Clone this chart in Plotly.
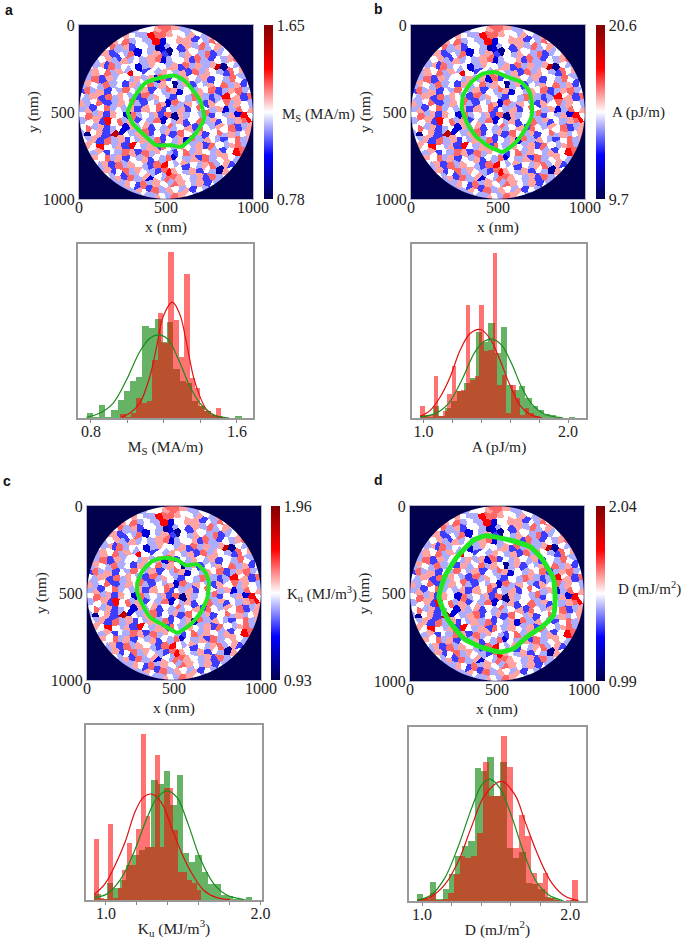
"""Grain maps with skyrmion outlines and parameter histograms, four panels."""

import numpy as np
import plotly.graph_objects as go

W, H = 685, 939
SERIF = "Liberation Serif"

# grain map, one digit per grain, see level_fraction
# the four maps show the same grains
grain_levels = [
    "0000000004556776445000000000",
    "0000004654487765546546000000",
    "0000465745448255663547560000",
    "0004574635541245364745654000",
    "0054635472546315465473456400",
    "0475643645467245563743546740",
    "0546374552465546374646915470",
    "0465746485354654637465437560",
    "5473645546462735465463547546",
    "4654745364574651463546574635",
    "3746354754635476254657346745",
    "5463746543746543547643485637",
    "6457346574354627465436574654",
    "4635745463657354635754624756",
    "5746365274546371645473546285",
    "4563857463547254635746354678",
    "5746345264635474563754657346",
    "4156392546735463754635746456",
    "5463746354647354627465435746",
    "4658546385463754654637546745",
    "0546354763746543574654635870",
    "0465746354635472546374565470",
    "0054637465437854635467463500",
    "0004635746543786546354165000",
    "0000546374625477654637450000",
    "0000004653746547654635000000",
    "0000000046537465463500000000",
    "0000000000046547654400000000",
]

# digit to position on the colour bar, 0 is outside the round sample and gets hidden
level_fraction = [0.42, 0.1, 0.2, 0.31, 0.42, 0.5, 0.59, 0.65, 0.75, 0.88]

# colour bar ends
ms_range = [0.78, 1.65]
a_range = [9.7, 20.6]
ku_range = [0.93, 1.96]
d_range = [0.99, 2.04]

# green outlines, nm
ms_outline_x = [280, 319, 376, 443, 548, 605, 662, 700, 719, 691, 653, 586, 529, 443, 376, 309, 280]
ms_outline_y = [500, 414, 338, 309, 290, 319, 385, 443, 538, 595, 643, 700, 691, 691, 634, 567, 500]
a_outline_x = [485, 558, 634, 682, 695, 692, 653, 596, 529, 452, 376, 328, 293, 299, 347, 414, 485]
a_outline_y = [271, 300, 328, 385, 462, 529, 605, 681, 729, 700, 643, 576, 481, 404, 328, 280, 271]
ku_outline_x = [289, 318, 376, 443, 519, 567, 634, 682, 701, 692, 653, 596, 519, 433, 366, 318, 289, 289]
ku_outline_y = [441, 374, 316, 297, 310, 341, 335, 383, 441, 527, 613, 680, 728, 680, 642, 565, 498, 441]
d_outline_x = [166, 204, 271, 366, 433, 557, 691, 757, 824, 834, 824, 757, 672, 595, 519, 404, 309, 214, 166]
d_outline_y = [519, 395, 290, 195, 170, 191, 233, 300, 414, 529, 624, 691, 748, 815, 834, 805, 757, 643, 519]

# histogram bars, arbitrary height units
ms_green = [15, 4, 40, 3, 25, 55, 80, 112, 122, 277, 270, 298, 228, 288, 148, 110, 105, 50, 35, 20, 10, 5, 2, 0, 5]
ms_red = [13, 3, 15, 60, 45, 50, 175, 317, 225, 498, 295, 183, 433, 120, 90, 35, 20, 8, 30]
a_green = [10, 4, 37, 5, 30, 50, 80, 105, 120, 258, 228, 283, 195, 273, 100, 85, 95, 60, 35, 25, 12, 8, 3, 0, 4]
a_red = [37, 8, 8, 125, 5, 20, 72, 155, 80, 85, 337, 115, 125, 337, 200, 205, 495, 100, 130, 15, 100, 60, 10, 30, 15, 5]
ku_green = [18, 3, 50, 35, 60, 105, 135, 150, 160, 358, 348, 385, 285, 373, 140, 115, 135, 85, 48, 48, 15, 12, 4, 4, 8]
ku_red = [182, 5, 3, 228, 5, 35, 90, 170, 105, 212, 497, 253, 160, 435, 160, 335, 335, 210, 85, 85, 60, 50, 30]
d_green = [20, 5, 57, 5, 37, 82, 135, 165, 180, 400, 392, 433, 315, 420, 160, 130, 148, 55, 50, 35, 12, 8, 2, 0, 4]
d_red = [5, 8, 25, 3, 5, 25, 80, 135, 130, 135, 205, 420, 315, 315, 497, 405, 160, 258, 197, 85, 55, 83, 10, 3, 1, 3, 63]

# fitted curves
ms_red_fit_x = [0.968, 1.014, 1.068, 1.123, 1.16, 1.196, 1.246, 1.288, 1.324, 1.361, 1.397, 1.434, 1.489, 1.543]
ms_red_fit_y = [3, 15, 45, 125, 215, 305, 348, 310, 225, 125, 65, 25, 5, 0]
ms_green_fit_x = [0.776, 0.849, 0.922, 0.995, 1.068, 1.123, 1.174, 1.224, 1.288, 1.342, 1.397, 1.47, 1.543]
ms_green_fit_y = [2, 15, 45, 115, 200, 240, 250, 235, 165, 95, 45, 10, 1]
a_red_fit_x = [0.977, 1.046, 1.115, 1.184, 1.253, 1.322, 1.393, 1.46, 1.529, 1.598, 1.667, 1.736, 1.816]
a_red_fit_y = [5, 23, 63, 123, 203, 253, 265, 238, 173, 98, 38, 11, 1]
a_green_fit_x = [0.977, 1.08, 1.172, 1.264, 1.356, 1.425, 1.476, 1.54, 1.609, 1.678, 1.747, 1.839, 1.954]
a_green_fit_y = [3, 13, 43, 113, 198, 231, 236, 218, 163, 93, 43, 11, 1]
ku_red_fit_x = [0.925, 0.996, 1.06, 1.125, 1.189, 1.243, 1.297, 1.361, 1.426, 1.49, 1.555, 1.63, 1.716, 1.802]
ku_red_fit_y = [17, 50, 105, 175, 265, 308, 317, 290, 215, 140, 80, 30, 7, 1]
ku_green_fit_x = [0.925, 1.006, 1.092, 1.178, 1.265, 1.329, 1.394, 1.458, 1.533, 1.609, 1.695, 1.781, 1.888]
ku_green_fit_y = [7, 18, 60, 140, 245, 305, 327, 308, 225, 125, 50, 15, 2]
d_red_fit_x = [0.966, 1.063, 1.153, 1.244, 1.334, 1.424, 1.537, 1.628, 1.695, 1.786, 1.876, 1.966, 2.056]
d_red_fit_y = [2, 14, 49, 119, 224, 319, 360, 319, 239, 134, 54, 14, 1]
d_green_fit_x = [0.966, 1.063, 1.153, 1.244, 1.334, 1.402, 1.458, 1.526, 1.605, 1.684, 1.763, 1.853, 1.944]
d_green_fit_y = [2, 19, 69, 164, 279, 349, 367, 339, 254, 149, 64, 19, 2]

seismic = [[0, "#00004d"], [0.25, "#0000ff"], [0.5, "#ffffff"], [0.75, "#ff0000"], [1, "#800000"]]

panels = [
    dict(letter="a", letter_xy=(9, 10), map_box=(79, 253, 25, 199), cbar_x=264, cbar_label="M<sub>S</sub> (MA/m)",
         label_xy=(280, 115), rng=ms_range, outline=(ms_outline_x, ms_outline_y), outline_w=4,
         hist_box=(78, 253, 244, 418), xr=(0.729, 1.688), ymax=523, ticks=[0.8, 1.0, 1.2, 1.4, 1.6], tick_text=["0.8", "", "", "", "1.6"],
         hist_title="M<sub>S</sub> (MA/m)", green=ms_green, green_x0=0.793, green_dx=0.034, red=ms_red, red_x0=0.975, red_dx=0.0292,
         red_fit=(ms_red_fit_x, ms_red_fit_y), green_fit=(ms_green_fit_x, ms_green_fit_y)),
    dict(letter="b", letter_xy=(379, 9), map_box=(411, 585, 25, 199), cbar_x=596, cbar_label="A (pJ/m)",
         label_xy=(610, 113), rng=a_range, outline=(a_outline_x, a_outline_y), outline_w=4,
         hist_box=(412, 586, 244, 418), xr=(0.92, 2.124), ymax=521, ticks=[1.0, 1.2, 1.4, 1.6, 1.8, 2.0], tick_text=["1.0", "", "", "", "", "2.0"],
         hist_title="A (pJ/m)", green=a_green, green_x0=0.999, green_dx=0.0428, red=a_red, red_x0=0.991, red_dx=0.0315,
         red_fit=(a_red_fit_x, a_red_fit_y), green_fit=(a_green_fit_x, a_green_fit_y)),
    dict(letter="c", letter_xy=(7, 481), map_box=(87, 261, 506, 680), cbar_x=271, cbar_label="K<sub>u</sub> (MJ/m<sup>3</sup>)",
         label_xy=(285, 594), rng=ku_range, outline=(ku_outline_x, ku_outline_y), outline_w=4,
         hist_box=(86, 262, 725, 900), xr=(0.871, 2.009), ymax=524, ticks=[1.0, 1.2, 1.4, 1.6, 1.8, 2.0], tick_text=["1.0", "", "", "", "", "2.0"],
         hist_title="K<sub>u</sub> (MJ/m<sup>3</sup>)", green=ku_green, green_x0=0.945, green_dx=0.0409, red=ku_red, red_x0=0.94, red_dx=0.0301,
         red_fit=(ku_red_fit_x, ku_red_fit_y), green_fit=(ku_green_fit_x, ku_green_fit_y)),
    dict(letter="d", letter_xy=(379, 480), map_box=(410, 584, 506, 681), cbar_x=596, cbar_label="D (mJ/m<sup>2</sup>)",
         label_xy=(616, 588), rng=d_range, outline=(d_outline_x, d_outline_y), outline_w=5,
         hist_box=(409, 586, 727, 901), xr=(0.912, 2.106), ymax=524, ticks=[1.0, 1.2, 1.4, 1.6, 1.8, 2.0], tick_text=["1.0", "", "", "", "", "2.0"],
         hist_title="D (mJ/m<sup>2</sup>)", green=d_green, green_x0=0.988, green_dx=0.0431, red=d_red, red_x0=0.993, red_dx=0.04,
         red_fit=(d_red_fit_x, d_red_fit_y), green_fit=(d_green_fit_x, d_green_fit_y)),
]

fractions = np.array([[level_fraction[int(c)] for c in row] for row in grain_levels])
n_rows, n_cols = fractions.shape

# grains as polygons: every typed digit owns the pixels nearest to a point
# pushed off its cell centre by a fixed hash of its row and column
rr, cc = np.meshgrid(np.arange(n_rows), np.arange(n_cols), indexing="ij")
push_u = np.modf(np.abs(np.sin(12.9898 * cc + 78.233 * rr)) * 43758.5453)[0] - 0.5
push_v = np.modf(np.abs(np.sin(39.346 * cc + 11.135 * rr)) * 24634.6345)[0] - 0.5
seed_u = (cc + 0.5 + 0.8 * push_u).ravel()
seed_v = (rr + 0.5 + 0.8 * push_v).ravel()

n_fine = 175
fine_step = 1000 / n_fine
fine = (np.arange(n_fine) + 0.5) * fine_step * n_cols / 1000
fine_fractions = np.zeros((n_fine, n_fine))
for j in range(n_fine):
    dist = (fine[:, None] - seed_u) ** 2 + (fine[j] - seed_v) ** 2
    fine_fractions[j] = fractions.ravel()[dist.argmin(axis=1)]

# navy corners round the round sample
angles = np.linspace(0, 2 * np.pi, 145)
circle = " ".join(f"{'M' if i == 0 else 'L'}{500 + 499 * np.cos(t):.1f},{500 + 499 * np.sin(t):.1f}" for i, t in enumerate(angles))
mask_path = "M0,0 L1000,0 L1000,1000 L0,1000 Z " + circle + " Z"


def dom_x(a, b):
    return [a / W, b / W]


def dom_y(top, bottom):
    return [1 - bottom / H, 1 - top / H]


fig = go.Figure()
layout = {}
shapes = []
annotations = []

for i, p in enumerate(panels):
    map_n = 2 * i + 1
    hist_n = 2 * i + 2
    x0, x1, y0, y1 = p["map_box"]
    vmin, vmax = p["rng"]

    fig.add_trace(go.Heatmap(
        z=vmin + fine_fractions * (vmax - vmin), x0=fine_step / 2, dx=fine_step, y0=fine_step / 2, dy=fine_step,
        zmin=vmin, zmax=vmax, colorscale=seismic, zsmooth=False, hoverinfo="skip",
        xaxis=f"x{map_n}", yaxis=f"y{map_n}",
        colorbar=dict(
            x=p["cbar_x"] / W, xanchor="left", xpad=0, ypad=0, y=1 - y0 / H, yanchor="top",
            len=(y1 - y0) / H, lenmode="fraction", thickness=9, outlinewidth=0,
            tickvals=[vmin, vmax], ticktext=[f"{vmin:g}", f"{vmax:g}"],
            ticks="", tickfont=dict(family=SERIF, size=16, color="#222222"),
        ),
    ))
    fig.add_trace(go.Scatter(
        x=p["outline"][0], y=p["outline"][1], mode="lines",
        line=dict(color="#22e622", width=p["outline_w"], shape="spline", smoothing=0.5),
        xaxis=f"x{map_n}", yaxis=f"y{map_n}", showlegend=False,
    ))
    shapes.append(dict(type="path", path=mask_path, xref=f"x{map_n}", yref=f"y{map_n}",
                       fillcolor="#00004d", line=dict(width=0), layer="above"))

    layout[f"xaxis{map_n}"] = dict(
        domain=dom_x(x0, x1), range=[0, 1000], anchor=f"y{map_n}", tickvals=[0, 500, 1000],
        showgrid=False, zeroline=False, ticks="", showline=True, mirror=True, linecolor="#b4b4c4", linewidth=1,
        ticklabelstandoff=-6, tickfont=dict(family=SERIF, size=16, color="#222222"),
        title=dict(text="x (nm)", font=dict(family=SERIF, size=15.5, color="#222222"), standoff=5),
    )
    layout[f"yaxis{map_n}"] = dict(
        domain=dom_y(y0, y1), range=[1000, 0], anchor=f"x{map_n}", tickvals=[0, 500, 1000],
        showgrid=False, zeroline=False, ticks="", showline=True, mirror=True, linecolor="#b4b4c4", linewidth=1,
        tickfont=dict(family=SERIF, size=16, color="#222222"),
        title=dict(text="y (nm)", font=dict(family=SERIF, size=15.5, color="#222222"), standoff=0),
    )

    # green goes first, red sits on top of it
    fig.add_trace(go.Bar(y=p["green"], x0=p["green_x0"], dx=p["green_dx"], width=p["green_dx"],
                         marker=dict(color="rgba(0,128,0,0.6)", line=dict(width=0)),
                         xaxis=f"x{hist_n}", yaxis=f"y{hist_n}", showlegend=False))
    fig.add_trace(go.Bar(y=p["red"], x0=p["red_x0"], dx=p["red_dx"], width=p["red_dx"],
                         marker=dict(color="rgba(255,0,0,0.55)", line=dict(width=0)),
                         xaxis=f"x{hist_n}", yaxis=f"y{hist_n}", showlegend=False))
    fig.add_trace(go.Scatter(x=p["red_fit"][0], y=p["red_fit"][1], mode="lines",
                             line=dict(color="#e01010", width=1.2, shape="spline"),
                             xaxis=f"x{hist_n}", yaxis=f"y{hist_n}", showlegend=False))
    fig.add_trace(go.Scatter(x=p["green_fit"][0], y=p["green_fit"][1], mode="lines",
                             line=dict(color="#1c8a1c", width=1.2, shape="spline"),
                             xaxis=f"x{hist_n}", yaxis=f"y{hist_n}", showlegend=False))

    hx0, hx1, hy0, hy1 = p["hist_box"]
    layout[f"xaxis{hist_n}"] = dict(
        domain=dom_x(hx0, hx1), range=list(p["xr"]), anchor=f"y{hist_n}", tickvals=p["ticks"], ticktext=p["tick_text"],
        showgrid=False, zeroline=False, ticks="outside", ticklen=3, tickcolor="#888888",
        showline=True, mirror=True, linecolor="#999999", linewidth=1.5,
        ticklabelstandoff=-5, tickfont=dict(family=SERIF, size=16, color="#222222"),
        title=dict(text=p["hist_title"], font=dict(family=SERIF, size=15.5, color="#222222"), standoff=2),
    )
    layout[f"yaxis{hist_n}"] = dict(
        domain=dom_y(hy0, hy1), range=[0, p["ymax"]], anchor=f"x{hist_n}", showticklabels=False,
        showgrid=False, zeroline=False, ticks="", showline=True, mirror=True, linecolor="#999999", linewidth=1.5,
    )

    annotations.append(dict(text=f"<b>{p['letter']}</b>", xref="paper", yref="paper", x=p["letter_xy"][0] / W, y=1 - p["letter_xy"][1] / H,
                            xanchor="center", yanchor="middle", showarrow=False,
                            font=dict(family="Liberation Sans", size=14, color="#111111")))
    annotations.append(dict(text=p["cbar_label"], xref="paper", yref="paper", x=p["label_xy"][0] / W, y=1 - p["label_xy"][1] / H,
                            xanchor="left", yanchor="middle", showarrow=False,
                            font=dict(family=SERIF, size=15, color="#222222")))

fig.update_layout(
    width=W, height=H, autosize=False, margin=dict(l=0, r=0, t=0, b=0, autoexpand=False),
    paper_bgcolor="white", plot_bgcolor="white", barmode="overlay", bargap=0,
    showlegend=False, shapes=shapes, annotations=annotations, **layout,
)

# the page's default body margin would push the figure 8 px down and right
fig.write_html("out.html", config=dict(displayModeBar=False), post_script="document.body.style.margin = '0';")
